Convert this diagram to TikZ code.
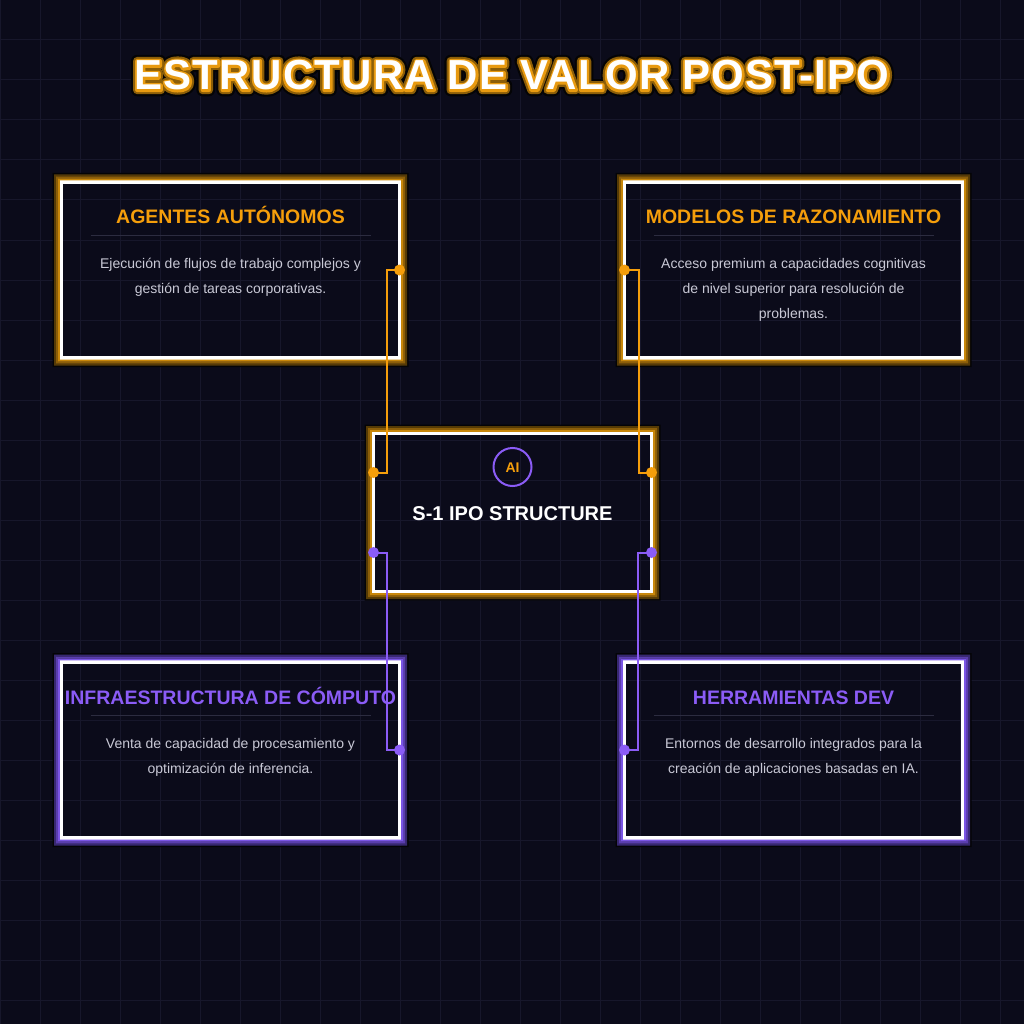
\documentclass[tikz,border=0pt]{standalone}
\usepackage{fontspec}
\setmainfont{Liberation Sans}
\usetikzlibrary{calc}
\definecolor{bg}{HTML}{0B0B1A}
\definecolor{gridc}{HTML}{17172B}
\definecolor{amber}{HTML}{F59E0B}
\definecolor{violet}{HTML}{8B5CF6}
\definecolor{amberA}{HTML}{C8870A}
\definecolor{amberB}{HTML}{8C5E08}
\definecolor{amberC}{HTML}{553A05}
\definecolor{violetA}{HTML}{7A55E4}
\definecolor{violetB}{HTML}{5A3DAE}
\definecolor{violetC}{HTML}{372870}
\definecolor{shadec}{HTML}{040406}
\definecolor{bodyc}{HTML}{C9C9D6}
\definecolor{sepc}{HTML}{2C2C40}
\definecolor{tglowA}{HTML}{E89A10}
\definecolor{tglowB}{HTML}{8C5E08}

\newcommand\ring[4]{% node, colour, outer, inner
  \fill[#2,even odd rule] ($(#1.south west)+(-#3,#3)$) rectangle ($(#1.north east)+(#3,-#3)$)
     ($(#1.south west)+(-#4,#4)$) rectangle ($(#1.north east)+(#4,-#4)$);}
\newcommand\glowframe[4]{%
  \ring{#1}{shadec}{9}{7.5}%
  \ring{#1}{#4}{7.5}{5.5}%
  \ring{#1}{#3}{5.5}{3.5}%
  \ring{#1}{#2}{3.5}{1.6}%
}
\newcommand\ttltext{ESTRUCTURA DE VALOR POST-IPO}
\newcommand\glowtitle{%
  \special{pdf:literal direct 1 j}%
  \rlap{\color{shadec}\addfontfeature{FakeBold=30}\ttltext}%
  \rlap{\color{tglowB}\addfontfeature{FakeBold=20}\ttltext}%
  \rlap{\color{tglowA}\addfontfeature{FakeBold=10}\ttltext}%
  \ttltext}

\tikzset{
  card/.style={draw=white, line width=3.2, minimum width=338, minimum height=176, inner sep=0, outer sep=0},
  hub/.style={draw=white, line width=3.2, minimum width=278, minimum height=158, inner sep=0, outer sep=0},
  ctitle/.style={font=\fontsize{19.5}{23}\selectfont\bfseries, anchor=base, inner sep=0},
  body/.style={font=\fontsize{14}{25}\selectfont, text=bodyc, anchor=base, inner sep=0},
  sepline/.style={draw=sepc, line width=1},
  ttl/.style={font=\fontsize{42}{48}\selectfont\bfseries\addfontfeature{LetterSpace=3.0}, anchor=base, inner sep=0},
  oline/.style={draw=amber, line width=2},
  vline/.style={draw=violet, line width=2},
}

\begin{document}
\begin{tikzpicture}[x=1pt,y=-1pt]
\useasboundingbox (0,0) rectangle (1024,1024);
\fill[bg] (0,0) rectangle (1024,1024);
\foreach \g in {0,40,...,1000} {
  \draw[gridc, line width=1] (\g,0) -- (\g,1024);
  \draw[gridc, line width=1] (0,\g) -- (1024,\g);
}

% title
\node[ttl, text=white] (title) at (512,90) {\glowtitle};

% cards
\node[card] (tl) at (230.5,270) {};
\node[card] (tr) at (793.5,270) {};
\node[hub] (c) at (512.5,512.5) {};
\node[card] (bl) at (230.5,750) {};
\node[card] (br) at (793.5,750) {};
\glowframe{tl}{amberA}{amberB}{amberC}
\glowframe{tr}{amberA}{amberB}{amberC}
\glowframe{c}{amberA}{amberB}{amberC}
\glowframe{bl}{violetA}{violetB}{violetC}
\glowframe{br}{violetA}{violetB}{violetC}

% top-left
\node[ctitle, text=amber] (tl-t) at ($(tl.center)+(0,-46)$) {AGENTES AUTÓNOMOS};
\draw[sepline] ($(tl.center)+(-140,-34.5)$) -- ($(tl.center)+(140,-34.5)$);
\node[body] (tl-1) at ($(tl.center)+(0,-2)$) {Ejecución de flujos de trabajo complejos y};
\node[body] (tl-2) at ($(tl.center)+(0,23)$) {gestión de tareas corporativas.};

% top-right
\node[ctitle, text=amber] (tr-t) at ($(tr.center)+(0,-46)$) {MODELOS DE RAZONAMIENTO};
\draw[sepline] ($(tr.center)+(-140,-34.5)$) -- ($(tr.center)+(140,-34.5)$);
\node[body] (tr-1) at ($(tr.center)+(0,-2)$) {Acceso premium a capacidades cognitivas};
\node[body] (tr-2) at ($(tr.center)+(0,23)$) {de nivel superior para resolución de};
\node[body] (tr-3) at ($(tr.center)+(0,48)$) {problemas.};

% bottom-left
\node[ctitle, text=violet] (bl-t) at ($(bl.center)+(0,-46)$) {INFRAESTRUCTURA DE CÓMPUTO};
\draw[sepline] ($(bl.center)+(-140,-34.5)$) -- ($(bl.center)+(140,-34.5)$);
\node[body] (bl-1) at ($(bl.center)+(0,-2)$) {Venta de capacidad de procesamiento y};
\node[body] (bl-2) at ($(bl.center)+(0,23)$) {optimización de inferencia.};

% bottom-right
\node[ctitle, text=violet] (br-t) at ($(br.center)+(0,-46)$) {HERRAMIENTAS DEV};
\draw[sepline] ($(br.center)+(-140,-34.5)$) -- ($(br.center)+(140,-34.5)$);
\node[body] (br-1) at ($(br.center)+(0,-2)$) {Entornos de desarrollo integrados para la};
\node[body] (br-2) at ($(br.center)+(0,23)$) {creación de aplicaciones basadas en IA.};

% hub
\node[draw=violet, line width=2, circle, minimum size=38, inner sep=0] (ai) at ($(c.center)+(0,-45.5)$) {};
\node[font=\fontsize{14}{16}\selectfont\bfseries, text=amber, anchor=base, inner sep=0] (ai-t) at ($(ai.center)+(0,5)$) {AI};
\node[font=\fontsize{20}{24}\selectfont\bfseries, text=white, anchor=base, inner sep=0] (c-t) at ($(c.center)+(0,8)$) {S-1 IPO STRUCTURE};

% connectors
\coordinate (c-wn) at ($(c.west)+(0,-40)$);
\coordinate (c-en) at ($(c.east)+(0,-40)$);
\coordinate (c-ws) at ($(c.west)+(0,40)$);
\coordinate (c-es) at ($(c.east)+(0,40)$);
\draw[oline] (tl.east) -- ++(-13,0) |- (c-wn);
\draw[oline] (tr.west) -- ++(14,0) |- (c-en);
\draw[vline] (c-ws) -- ++(13,0) |- (bl.east);
\draw[vline] (c-es) -- ++(-14,0) |- (br.west);
\fill[amber] (tl.east) circle[radius=5.5pt];
\fill[amber] (c-wn) circle[radius=5.5pt];
\fill[amber] (tr.west) circle[radius=5.5pt];
\fill[amber] (c-en) circle[radius=5.5pt];
\fill[violet] (c-ws) circle[radius=5.5pt];
\fill[violet] (bl.east) circle[radius=5.5pt];
\fill[violet] (c-es) circle[radius=5.5pt];
\fill[violet] (br.west) circle[radius=5.5pt];
\end{tikzpicture}
\end{document}
